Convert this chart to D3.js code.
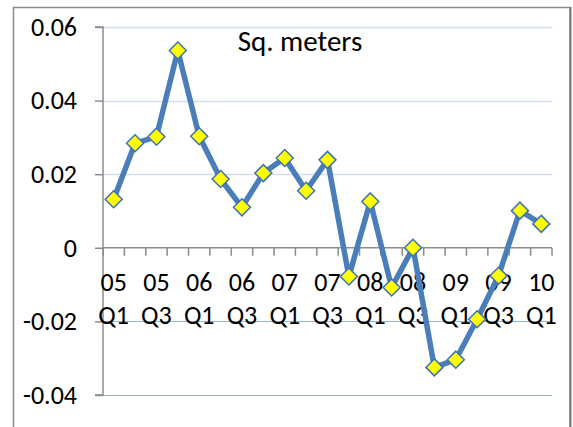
<!DOCTYPE html>
<html>
<head>
<meta charset="utf-8">
<script src="https://cdn.jsdelivr.net/npm/d3@7"></script>
<style>
  html, body { margin: 0; padding: 0; background: #ffffff; }
  svg { display: block; }
  text { font-family: Carlito, Calibri, Lato, "Open Sans", sans-serif; fill: #000; }
</style>
</head>
<body>
<div id="chart"></div>
<script>
// ---- data ----
const categories = ["05 Q1","05 Q2","05 Q3","05 Q4","06 Q1","06 Q2","06 Q3","06 Q4",
                    "07 Q1","07 Q2","07 Q3","07 Q4","08 Q1","08 Q2","08 Q3","08 Q4",
                    "09 Q1","09 Q2","09 Q3","09 Q4","10 Q1"];
const values = [0.0132, 0.0284, 0.0302, 0.0536, 0.0303, 0.0187, 0.0110, 0.0203,
                0.0244, 0.0155, 0.0239, -0.0078, 0.0126, -0.0108, 0.0000, -0.0325,
                -0.0304, -0.0194, -0.0076, 0.0101, 0.0065];
const yTickValues = [0.06, 0.04, 0.02, 0, -0.02, -0.04];
const yTickLabels = ["0.06", "0.04", "0.02", "0", "-0.02", "-0.04"];
const xLabelYears = ["05","05","06","06","07","07","08","08","09","09","10"];
const xLabelQuarters = ["Q1","Q3","Q1","Q3","Q1","Q3","Q1","Q3","Q1","Q3","Q1"];
const title = "Sq. meters";

// ---- layout ----
const W = 573, H = 427;
const plot = { left: 103, right: 552, top: 27, bottom: 395 };
const FONT = "Carlito, Calibri, Lato, 'Open Sans', sans-serif";

const svg = d3.select("#chart").append("svg")
  .attr("width", W).attr("height", H);

svg.append("rect").attr("width", W).attr("height", H).attr("fill", "#fff");

// outer chart border
svg.append("rect")
  .attr("x", 13.5).attr("y", 7.5).attr("width", 556.5).attr("height", 440)
  .attr("fill", "none").attr("stroke", "#8c8c8c").attr("stroke-width", 1.5);
svg.append("line")
  .attr("x1", 570.5).attr("x2", 570.5).attr("y1", 7).attr("y2", H)
  .attr("stroke", "#7a7a7a").attr("stroke-width", 2);

const x = d3.scaleBand().domain(categories).range([plot.left, plot.right]).paddingInner(0).paddingOuter(0);
const y = d3.scaleLinear().domain([-0.04, 0.06]).range([plot.bottom, plot.top]);

// gridlines
const gridVals = yTickValues.filter(v => v !== 0);
svg.append("g").selectAll("line").data(gridVals).join("line")
  .attr("x1", plot.left).attr("x2", plot.right)
  .attr("y1", d => Math.round(y(d)) + 0.5).attr("y2", d => Math.round(y(d)) + 0.5)
  .attr("stroke", d => d > 0 ? "#d3dff0" : "#9ab4de")
  .attr("stroke-width", d => d > 0 ? 1.6 : 1.2);

// y axis
const yAxis = d3.axisLeft(y).tickValues(yTickValues).tickSize(8)
  .tickFormat((d, i) => yTickLabels[i]);
const gy = svg.append("g").attr("transform", `translate(${plot.left},0)`).call(yAxis);
gy.select(".domain").attr("stroke", "#8c8c8c").attr("stroke-width", 1.5)
  .attr("d", `M-8,${y(0.06)}H0V${y(-0.04)}H-8`);
gy.selectAll(".tick line").attr("stroke", "#8c8c8c").attr("stroke-width", 1.5);
gy.selectAll(".tick text").attr("x", -26).attr("font-size", 26)
  .attr("font-family", FONT).attr("fill", "#000");

// x axis (at zero)
const y0 = y(0);
svg.append("line").attr("x1", plot.left).attr("x2", plot.right)
  .attr("y1", y0).attr("y2", y0).attr("stroke", "#8c8c8c").attr("stroke-width", 1.5);
const boundaries = categories.map(c => x(c)).concat([x(categories[categories.length - 1]) + x.bandwidth()]);
svg.append("g").selectAll("line").data(boundaries).join("line")
  .attr("x1", d => d).attr("x2", d => d)
  .attr("y1", y0).attr("y2", y0 + 8)
  .attr("stroke", "#8c8c8c").attr("stroke-width", 1.5);

// x labels (every other category)
const labelCats = categories.filter((c, i) => i % 2 === 0);
const xl = svg.append("g").selectAll("text").data(labelCats).join("text")
  .attr("text-anchor", "middle").attr("font-size", 26)
  .attr("x", d => x(d) + x.bandwidth() / 2);
xl.append("tspan").attr("x", d => x(d) + x.bandwidth() / 2).attr("y", 291)
  .text((d, i) => xLabelYears[i]);
xl.append("tspan").attr("x", d => x(d) + x.bandwidth() / 2).attr("y", 324)
  .text((d, i) => xLabelQuarters[i]);

// line
const line = d3.line()
  .x((d, i) => x(categories[i]) + x.bandwidth() / 2)
  .y(d => y(d));
svg.append("path").datum(values)
  .attr("d", line).attr("fill", "none")
  .attr("stroke", "#4a7ebb").attr("stroke-width", 5.5)
  .attr("stroke-linejoin", "round");

// markers
const r = 8.5;
svg.append("g").selectAll("path").data(values).join("path")
  .attr("transform", (d, i) => `translate(${x(categories[i]) + x.bandwidth() / 2},${y(d)})`)
  .attr("d", `M0,${-r}L${r},0L0,${r}L${-r},0Z`)
  .attr("fill", "#ffff00").attr("stroke", "#3d72b5").attr("stroke-width", 1.5);

// title
svg.append("text").attr("x", 300).attr("y", 51)
  .attr("text-anchor", "middle").attr("font-size", 29).text(title);
</script>
</body>
</html>
